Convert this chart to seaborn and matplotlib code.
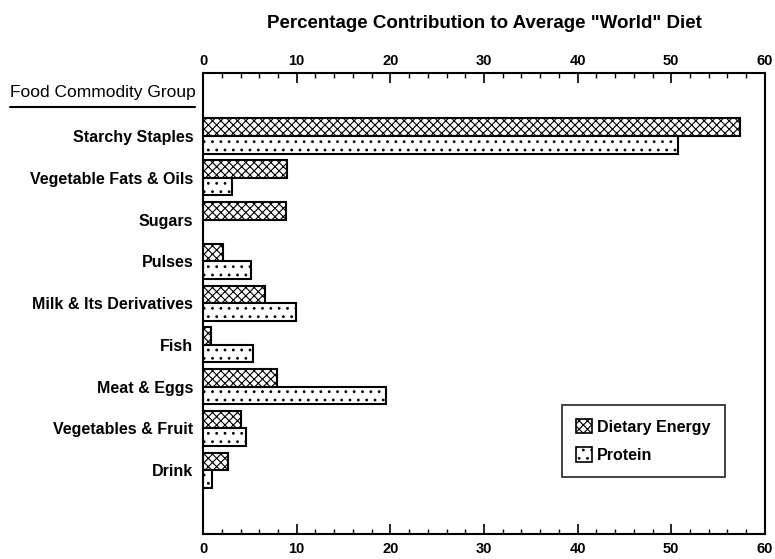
import numpy as np
import pandas as pd
import seaborn as sns
import matplotlib.pyplot as plt
import matplotlib.transforms as mtransforms
from matplotlib.lines import Line2D
from matplotlib.patches import Patch
from matplotlib.ticker import MultipleLocator

# values (% of average "world" diet)
groups = ["Starchy Staples", "Vegetable Fats & Oils", "Sugars", "Pulses",
          "Milk & Its Derivatives", "Fish", "Meat & Eggs",
          "Vegetables & Fruit", "Drink"]
energy = [57.3, 9.0, 8.9, 2.1, 6.6, 0.8, 7.9, 4.1, 2.7]
protein = [50.7, 3.1, 0.0, 5.1, 9.9, 5.3, 19.5, 4.6, 1.0]
series = ["Dietary Energy", "Protein"]
hatches = ["xxxx", ".."]

df = pd.DataFrame({
    "group": groups * 2,
    "value": energy + protein,
    "series": [series[0]] * len(groups) + [series[1]] * len(groups),
})

sns.set_theme(style="white")
plt.rcParams["font.family"] = ["Liberation Sans", "DejaVu Sans"]
plt.rcParams["font.weight"] = "bold"
plt.rcParams["hatch.linewidth"] = 0.8
for k in ["text.color", "axes.labelcolor", "xtick.color", "ytick.color"]:
    plt.rcParams[k] = "black"

fig = plt.figure(figsize=(7.75, 5.59), dpi=100)
ax = fig.add_axes([0.262, 0.0447, 0.725, 0.824])

sns.barplot(data=df, x="value", y="group", hue="series", order=groups,
            hue_order=series, orient="h", width=0.84,
            palette=["white", "white"], edgecolor="black", linewidth=1.5,
            legend=False, ax=ax)

for cont, h in zip(ax.containers, hatches):
    for bar in cont:
        bar.set_hatch(h)

ax.set_xlim(0, 60)
ax.set_ylim(9.53, -1.5)
ax.set_xlabel("")
ax.set_ylabel("")

ax.xaxis.set_major_locator(MultipleLocator(10))
ax.xaxis.set_minor_locator(MultipleLocator(2))
ax.tick_params(axis="x", which="both", top=True, bottom=True,
               labeltop=True, labelbottom=True, direction="in",
               color="black", labelcolor="black", labelsize=10.5, pad=4)
ax.tick_params(axis="x", which="major", length=7, width=1.2)
ax.tick_params(axis="x", which="minor", length=3.5, width=1)
ax.tick_params(axis="y", length=0, labelsize=11.5, pad=7, labelcolor="black")

for s in ax.spines.values():
    s.set_color("black")
    s.set_linewidth(1.5)

# nudge only the bottom tick labels down a little
fig.canvas.draw()
shift = mtransforms.ScaledTranslation(0, -2 / 100, fig.dpi_scale_trans)
for t in ax.xaxis.get_major_ticks():
    t.label1.set_transform(t.label1.get_transform() + shift)

fig.text(0.5 * (0.262 + 0.987), 1 - 23 / 559,
         'Percentage Contribution to Average "World" Diet',
         ha="center", va="center", fontsize=13.5, color="black")

fig.text(10 / 775, 1 - 92 / 559, "Food Commodity Group",
         ha="left", va="center", fontsize=12.5, fontweight="normal",
         color="black")
fig.add_artist(Line2D([10 / 775, 195 / 775], [1 - 107 / 559] * 2,
                      transform=fig.transFigure, color="black", lw=1.5))

handles = [Patch(facecolor="white", edgecolor="black", hatch=h, linewidth=1.2)
           for h in hatches]
leg = ax.legend(handles, series, loc="center", bbox_to_anchor=(0.784, 0.202),
                prop={"size": 11.5, "weight": "bold"}, frameon=True,
                fancybox=False, borderpad=0.9, handlelength=1.0,
                handleheight=1.0, handletextpad=0.3, labelspacing=0.8)
leg.get_frame().set_edgecolor("black")
leg.get_frame().set_linewidth(1.3)
for txt in leg.get_texts():
    txt.set_color("black")

fig.savefig("out.png", dpi=100)
